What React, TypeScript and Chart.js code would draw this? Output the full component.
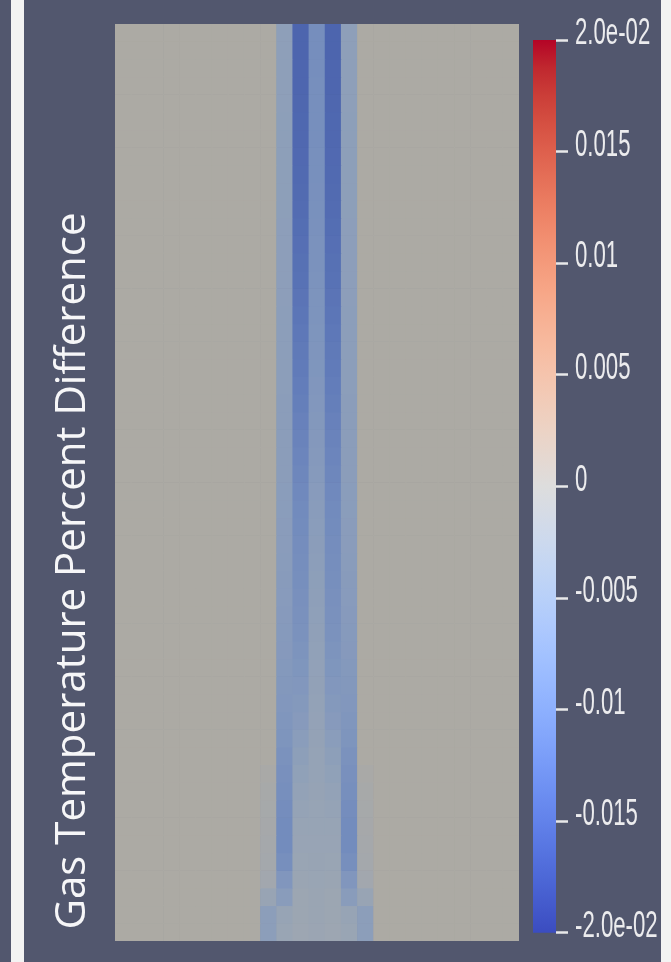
import React, { useEffect, useRef } from "react";
import { Chart, registerables } from "chart.js";

Chart.register(...registerables);

// ---------------- data ----------------
const columnCount = 25;
const rowCount = 52;
const titleText = "Gas Temperature Percent Difference";

const colorbarMin = -0.02;
const colorbarMax = 0.02;
const colorbarTicks = [-0.02, -0.015, -0.01, -0.005, 0, 0.005, 0.01, 0.015, 0.02];
const colorbarLabels = ["-2.0e-02", "-0.015", "-0.01", "-0.005", "0", "0.005", "0.01", "0.015", "2.0e-02"];

// per-row values (row 0 = top) of the non-zero columns
const col09 = [
  0, 0, 0, 0, 0, 0, 0, 0, 0, 0,
  0, 0, 0, 0, 0, 0, 0, 0, 0, 0,
  0, 0, 0, 0, 0, 0, 0, 0, 0, 0,
  0, 0, 0, 0, 0, 0, 0, 0, 0, 0,
  0, 0, -0.0006, -0.0009, -0.0011, -0.0012, -0.0013, -0.0015, -0.002, -0.0035,
  -0.0055, -0.0055,
];
const col10 = [
  -0.0052, -0.0052, -0.0052, -0.0052, -0.0052, -0.0053, -0.0053, -0.0053, -0.0053, -0.0053,
  -0.0053, -0.0054, -0.0054, -0.0054, -0.0054, -0.0054, -0.0055, -0.0055, -0.0055, -0.0055,
  -0.0055, -0.0056, -0.0056, -0.0056, -0.0057, -0.0057, -0.0058, -0.0058, -0.0059, -0.0059,
  -0.006, -0.0061, -0.0062, -0.0063, -0.0064, -0.0065, -0.0067, -0.0069, -0.0071, -0.0073,
  -0.0076, -0.008, -0.0084, -0.0087, -0.009, -0.0092, -0.0092, -0.0086, -0.0072, -0.006,
  -0.0038, -0.0034,
];
const col11 = [
  -0.0148, -0.0148, -0.0147, -0.0147, -0.0146, -0.0145, -0.0144, -0.0143, -0.0142, -0.0141,
  -0.0139, -0.0137, -0.0135, -0.0133, -0.0131, -0.0128, -0.0126, -0.0123, -0.012, -0.0118,
  -0.0115, -0.0112, -0.0109, -0.0106, -0.0103, -0.01, -0.0097, -0.0094, -0.0092, -0.009,
  -0.0088, -0.0086, -0.0084, -0.0082, -0.008, -0.0077, -0.0074, -0.0071, -0.0067, -0.0063,
  -0.0058, -0.0053, -0.0048, -0.0044, -0.0041, -0.0038, -0.0036, -0.0034, -0.0032, -0.003,
  -0.0029, -0.0028,
];
const col12 = [
  -0.0088, -0.0088, -0.0088, -0.0087, -0.0087, -0.0086, -0.0086, -0.0085, -0.0085, -0.0084,
  -0.0083, -0.0082, -0.0081, -0.008, -0.0079, -0.0078, -0.0077, -0.0076, -0.0075, -0.0074,
  -0.0072, -0.0071, -0.0069, -0.0068, -0.0066, -0.0064, -0.0062, -0.006, -0.0058, -0.0056,
  -0.0055, -0.0053, -0.0052, -0.005, -0.0049, -0.0047, -0.0046, -0.0045, -0.0044, -0.0043,
  -0.0042, -0.0041, -0.004, -0.0039, -0.0038, -0.0037, -0.0036, -0.0035, -0.0034, -0.0033,
  -0.0032, -0.0031,
];
const col13 = col11;
const col14 = col10;
const col15 = col09;

const columnProfiles: Record<number, number[]> = {
  9: col09, 10: col10, 11: col11, 12: col12, 13: col13, 14: col14, 15: col15,
};

// ---------------- colour map (ParaView "Cool to Warm") ----------------
const coolWarm: [number, number, number, number][] = [
  [0.0, 59, 76, 192], [0.03125, 68, 90, 204], [0.0625, 77, 104, 215], [0.09375, 87, 117, 225],
  [0.125, 98, 130, 234], [0.15625, 108, 142, 241], [0.1875, 119, 154, 247], [0.21875, 130, 165, 251],
  [0.25, 141, 176, 254], [0.28125, 152, 185, 255], [0.3125, 163, 194, 255], [0.34375, 174, 201, 253],
  [0.375, 184, 208, 249], [0.40625, 194, 213, 244], [0.4375, 204, 217, 238], [0.46875, 213, 219, 230],
  [0.5, 221, 221, 221], [0.53125, 229, 216, 209], [0.5625, 236, 211, 197], [0.59375, 241, 204, 185],
  [0.625, 245, 196, 173], [0.65625, 247, 187, 160], [0.6875, 247, 177, 148], [0.71875, 247, 166, 135],
  [0.75, 244, 154, 123], [0.78125, 241, 141, 111], [0.8125, 236, 127, 99], [0.84375, 229, 112, 88],
  [0.875, 222, 96, 77], [0.90625, 213, 80, 66], [0.9375, 203, 62, 56], [0.96875, 192, 40, 47],
  [1.0, 180, 4, 38],
];
const lighting = [0.778, 0.769, 0.742];

function mapColor(v: number): number[] {
  let t = (v - colorbarMin) / (colorbarMax - colorbarMin);
  t = Math.max(0, Math.min(1, t));
  for (let i = 0; i < coolWarm.length - 1; i++) {
    const a = coolWarm[i];
    const b = coolWarm[i + 1];
    if (t <= b[0]) {
      const f = (t - a[0]) / (b[0] - a[0]);
      return [a[1] + (b[1] - a[1]) * f, a[2] + (b[2] - a[2]) * f, a[3] + (b[3] - a[3]) * f];
    }
  }
  const last = coolWarm[coolWarm.length - 1];
  return [last[1], last[2], last[3]];
}

function litColor(v: number): string {
  const c = mapColor(v);
  return `rgb(${Math.round(c[0] * lighting[0])},${Math.round(c[1] * lighting[1])},${Math.round(c[2] * lighting[2])})`;
}

function cellValue(col: number, row: number): number {
  const p = columnProfiles[col];
  return p ? p[row] : 0;
}

const titlePlugin = {
  id: "sideTitle",
  afterDraw(chart: any) {
    const ctx = chart.ctx;
    const area = chart.chartArea;
    ctx.save();
    ctx.translate(area.left - 30, 571);
    ctx.rotate(-Math.PI / 2);
    ctx.font = '42px "Open Sans"';
    ctx.fillStyle = "#f6f6f8";
    ctx.textAlign = "center";
    ctx.textBaseline = "alphabetic";
    ctx.fillText(titleText, 0, 0, 726);
    ctx.restore();
  },
};

const labelSqueeze = 0.6;

export default function App() {
  const mainRef = useRef<HTMLCanvasElement | null>(null);
  const barRef = useRef<HTMLCanvasElement | null>(null);

  useEffect(() => {
    const labels = Array.from({ length: columnCount }, (_, c) => String(c));
    const datasets = Array.from({ length: rowCount }, (_, r) => ({
      label: `row ${r}`,
      data: Array.from({ length: columnCount }, () => 1),
      backgroundColor: Array.from({ length: columnCount }, (_, c) => litColor(cellValue(c, r))),
      borderWidth: 0,
      barPercentage: 1,
      categoryPercentage: 1,
    }));

    const main = new Chart(mainRef.current as HTMLCanvasElement, {
      type: "bar",
      data: { labels, datasets },
      options: {
        responsive: false,
        animation: false,
        layout: { padding: { left: 115, top: 24, right: 152, bottom: 21 } },
        plugins: { legend: { display: false }, tooltip: { enabled: false }, title: { display: false } },
        scales: {
          x: { stacked: true, display: false },
          y: { stacked: true, display: false, min: 0, max: rowCount, reverse: true },
        },
      },
      plugins: [titlePlugin],
    } as any);

    const bar = new Chart(barRef.current as HTMLCanvasElement, {
      type: "bar",
      data: {
        labels: ["colorbar"],
        datasets: [
          {
            data: [[colorbarMin, colorbarMax]],
            borderWidth: 0,
            barPercentage: 1,
            categoryPercentage: 1,
            backgroundColor: (ctx: any) => {
              const chart = ctx.chart;
              const y = chart.scales.y;
              if (!y || !chart.chartArea) return "rgba(0,0,0,0)";
              const y0 = y.getPixelForValue(colorbarMin);
              const y1 = y.getPixelForValue(colorbarMax);
              const g = chart.ctx.createLinearGradient(0, y0, 0, y1);
              coolWarm.forEach((s) => g.addColorStop(s[0], `rgb(${s[1]},${s[2]},${s[3]})`));
              return g;
            },
          },
        ],
      },
      options: {
        responsive: false,
        animation: false,
        layout: { padding: { top: 40, bottom: 25, left: 0, right: 0 } },
        plugins: { legend: { display: false }, tooltip: { enabled: false } },
        scales: {
          x: { display: false },
          y: {
            position: "right",
            min: colorbarMin,
            max: colorbarMax,
            afterBuildTicks: (s: any) => {
              s.ticks = colorbarTicks.map((v) => ({ value: v }));
            },
            afterFit: (s: any) => {
              s.width = 105;
              if (!s._condensed) {
                const orig = Object.getPrototypeOf(s).drawLabels;
                s.drawLabels = function (area: any) {
                  const c = this.ctx;
                  const x0 = this.left + 19;
                  const savedRight = this.right;
                  this.right = x0 + (savedRight - x0) / labelSqueeze + 10;
                  c.save();
                  c.translate(x0, 0);
                  c.scale(labelSqueeze, 1);
                  c.translate(-x0, 0);
                  orig.call(this, area);
                  c.restore();
                  this.right = savedRight;
                };
                s._condensed = true;
              }
            },
            border: { display: false },
            grid: {
              display: true,
              drawOnChartArea: false,
              drawTicks: true,
              tickLength: 12,
              tickWidth: 2.5,
              tickColor: "#e8e8ea",
            },
            ticks: {
              autoSkip: false,
              padding: 7,
              labelOffset: -6,
              color: "#ececee",
              font: { family: '"Liberation Sans", Arial, sans-serif', size: 37 },
              callback: (value: any) => {
                const i = colorbarTicks.findIndex((t) => Math.abs(t - Number(value)) < 1e-9);
                return i >= 0 ? colorbarLabels[i] : "";
              },
            },
          },
        },
      },
    } as any);

    return () => {
      main.destroy();
      bar.destroy();
    };
  }, []);

  return (
    <div
      style={{
        position: "fixed",
        left: 0,
        top: 0,
        width: 671,
        height: 962,
        background: "#52576e",
        overflow: "hidden",
      }}
    >
      <div style={{ position: "absolute", left: 11, top: 0, width: 13, height: 962, background: "#f3f3f3" }} />
      <div style={{ position: "absolute", left: 661, top: 0, width: 10, height: 962, background: "#f3f3f3" }} />
      <canvas ref={mainRef} width={671} height={962} style={{ position: "absolute", left: 0, top: 0 }} />
      <canvas ref={barRef} width={128} height={962} style={{ position: "absolute", left: 533, top: 0 }} />
    </div>
  );
}
